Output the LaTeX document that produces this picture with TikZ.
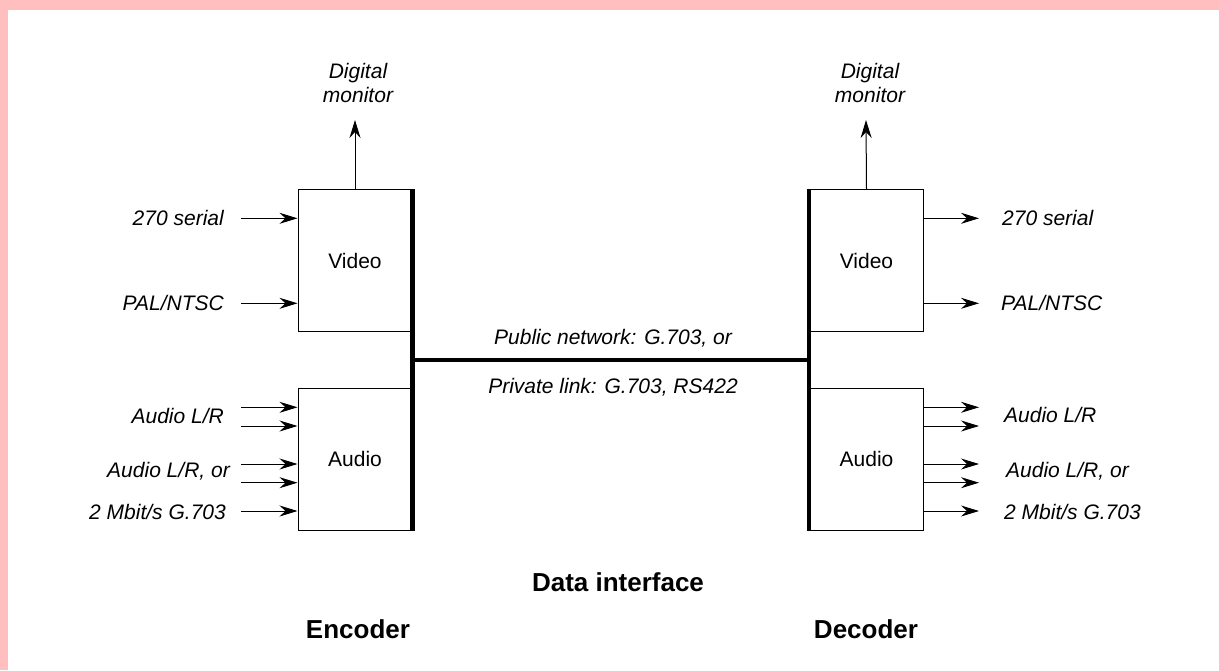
\documentclass[tikz,border=0pt]{standalone}
\usepackage{fontspec}
\setmainfont{Liberation Sans}
\usetikzlibrary{arrows.meta}
\definecolor{pinkband}{HTML}{FFBFBF}
\tikzset{
  box/.style={draw, line width=1pt, minimum width=114pt, minimum height=142pt, inner sep=0pt, font=\fontsize{21}{24}\selectfont},
  lbl/.style={font=\fontsize{21}{24}\selectfont\itshape, inner sep=0pt},
  ttl/.style={font=\fontsize{26}{30}\selectfont\bfseries, inner sep=0pt},
  sig/.style={line width=1pt, -{Stealth[length=18pt,width=11pt,inset=6pt]}},
  bus/.style={line width=4.5pt}
}
\begin{document}
\begin{tikzpicture}[x=1pt,y=-1pt]
\useasboundingbox (0,0) rectangle (1219,670);
\fill[pinkband] (0,0) rectangle (1219,10);
\fill[pinkband] (0,0) rectangle (8,670);

% boxes
\node[box] (ev) at (355,260.5) {Video};
\node[box] (ea) at (355,459) {Audio};
\node[box] (dv) at (866.5,260.5) {Video};
\node[box] (da) at (866.5,459) {Audio};

% buses
\coordinate (midy) at (0,360);
\draw[bus] (ev.north east) -- (ea.south east);
\draw[bus] (dv.north west) -- (da.south west);
\draw[bus] (ev.east |- midy) -- (dv.west |- midy);

\node[lbl] (pub) at (613,338) {Public network: G.703, or};
\node[lbl] (priv) at (613,387) {Private link: G.703, RS422};

% digital monitors
\node[lbl, align=center] (dm1) at (358,83) {Digital\\monitor};
\node[lbl, align=center] (dm2) at (870,83) {Digital\\monitor};
\coordinate (m1) at (355,120);
\coordinate (m2) at (866,120);
\draw[sig] (ev.north) -- (m1);
\draw[sig] (dv.north) -- (m2);

% encoder inputs
\coordinate (i1) at (241,218.3);
\coordinate (i2) at (241,303.3);
\coordinate (i3) at (241,407.3);
\coordinate (i4) at (241,426);
\coordinate (i5) at (241,464);
\coordinate (i6) at (241,482.7);
\coordinate (i7) at (241,511);
\foreach \c/\b in {i1/ev,i2/ev,i3/ea,i4/ea,i5/ea,i6/ea,i7/ea}
  \draw[sig] (\c) -- (\b.west |- \c);
\node[lbl, anchor=east] (l1) at (224,218.3) {270 serial};
\node[lbl, anchor=east] (l2) at (224,303.3) {PAL/NTSC};
\node[lbl, anchor=east] (l3) at (224,416) {Audio L/R};
\node[lbl, anchor=east] (l4) at (230,471.7) {Audio L/R, or};
\node[lbl, anchor=east] (l5) at (226,512) {2 Mbit/s G.703};

% decoder outputs
\coordinate (o1) at (979,218.3);
\coordinate (o2) at (979,303.3);
\coordinate (o3) at (979,407.3);
\coordinate (o4) at (979,426);
\coordinate (o5) at (979,464);
\coordinate (o6) at (979,482.7);
\coordinate (o7) at (979,511);
\foreach \c/\b in {o1/dv,o2/dv,o3/da,o4/da,o5/da,o6/da,o7/da}
  \draw[sig] (\b.east |- \c) -- (\c);
\node[lbl, anchor=west] (r1) at (1002,218.3) {270 serial};
\node[lbl, anchor=west] (r2) at (1001,303.3) {PAL/NTSC};
\node[lbl, anchor=west] (r3) at (1004,415) {Audio L/R};
\node[lbl, anchor=west] (r4) at (1006,471.7) {Audio L/R, or};
\node[lbl, anchor=west] (r5) at (1004,512) {2 Mbit/s G.703};

% titles
\node[ttl] (di) at (618,581.7) {Data interface};
\node[ttl] (enc) at (358,629) {Encoder};
\node[ttl] (dec) at (866,629) {Decoder};
\end{tikzpicture}
\end{document}
